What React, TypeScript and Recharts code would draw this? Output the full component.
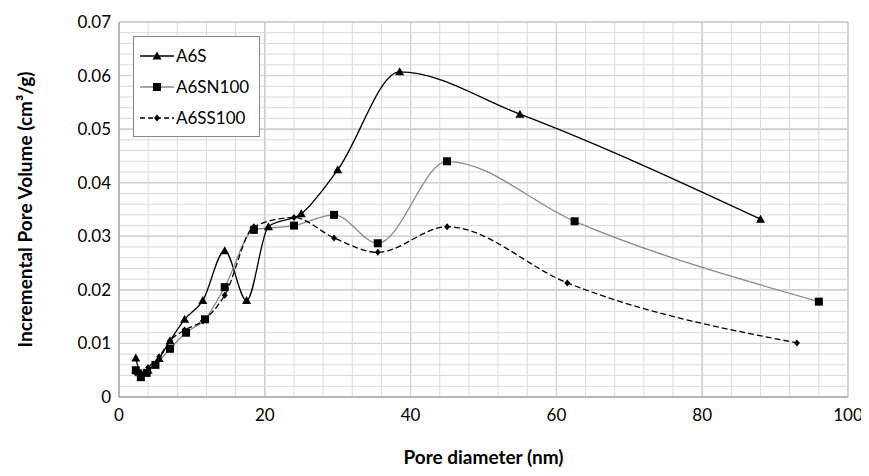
import { CartesianGrid, Line, LineChart, ReferenceLine, XAxis, YAxis } from 'recharts';

const a6s = [
  { x: 2.3, y: 0.0073 }, { x: 3, y: 0.0045 }, { x: 4, y: 0.005 }, { x: 5.5, y: 0.0072 },
  { x: 7, y: 0.0105 }, { x: 9, y: 0.0145 }, { x: 11.5, y: 0.018 }, { x: 14.5, y: 0.0273 },
  { x: 17.5, y: 0.018 }, { x: 20.5, y: 0.0318 }, { x: 25, y: 0.0342 }, { x: 30, y: 0.0424 },
  { x: 38.5, y: 0.0607 }, { x: 55, y: 0.0528 }, { x: 88, y: 0.0332 },
];
const a6sn100 = [
  { x: 2.3, y: 0.005 }, { x: 3, y: 0.0037 }, { x: 3.8, y: 0.0045 }, { x: 5, y: 0.006 },
  { x: 7, y: 0.009 }, { x: 9.2, y: 0.012 }, { x: 11.8, y: 0.0145 }, { x: 14.5, y: 0.0205 },
  { x: 18.5, y: 0.0312 }, { x: 24, y: 0.032 }, { x: 29.5, y: 0.034 }, { x: 35.5, y: 0.0287 },
  { x: 45, y: 0.044 }, { x: 62.5, y: 0.0328 }, { x: 96, y: 0.0178 },
];
const a6ss100 = [
  { x: 2.3, y: 0.0045 }, { x: 3, y: 0.004 }, { x: 4, y: 0.0055 }, { x: 5.5, y: 0.0075 },
  { x: 7, y: 0.0105 }, { x: 9, y: 0.0125 }, { x: 11.5, y: 0.0142 }, { x: 14.5, y: 0.019 },
  { x: 18.5, y: 0.0318 }, { x: 24, y: 0.0335 }, { x: 29.5, y: 0.0297 }, { x: 35.5, y: 0.027 },
  { x: 45, y: 0.0318 }, { x: 61.5, y: 0.0213 }, { x: 93, y: 0.0101 },
];
const xTicks = [0, 20, 40, 60, 80, 100];
const yTicks = [0, 0.01, 0.02, 0.03, 0.04, 0.05, 0.06, 0.07];
const xMinor = Array.from({ length: 26 }, (_, i) => i * 4);
const yMinor = Array.from({ length: 36 }, (_, i) => i * 0.002);

const font = 'Lato, "Open Sans", sans-serif';

const Triangle = (p: any) => (
  <polygon points={`${p.cx},${p.cy - 4.5} ${p.cx - 4.5},${p.cy + 3.5} ${p.cx + 4.5},${p.cy + 3.5}`} fill="#000" />
);
const Square = (p: any) => <rect x={p.cx - 4} y={p.cy - 4} width={8} height={8} fill="#000" />;
const Diamond = (p: any) => (
  <polygon points={`${p.cx},${p.cy - 3.5} ${p.cx + 3},${p.cy} ${p.cx},${p.cy + 3.5} ${p.cx - 3},${p.cy}`} fill="#000" />
);

const legendItems = [
  { name: 'A6S', color: '#000', dash: undefined, Shape: Triangle },
  { name: 'A6SN100', color: '#888', dash: undefined, Shape: Square },
  { name: 'A6SS100', color: '#000', dash: '5 3', Shape: Diamond },
];

const LegendBox = () => (
  <div style={{ position: 'absolute', left: 133, top: 36, background: '#fff', border: '1px solid #888', padding: '3px 10px 3px 6px', fontFamily: font, fontSize: 17 }}>
    {legendItems.map((it) => (
      <div key={it.name} style={{ display: 'flex', alignItems: 'center', height: 31 }}>
        <svg width={34} height={12}>
          <line x1={0} y1={6} x2={34} y2={6} stroke={it.color} strokeWidth={1.3} strokeDasharray={it.dash} />
          <it.Shape cx={17} cy={6} />
        </svg>
        <span style={{ marginLeft: 2 }}>{it.name}</span>
      </div>
    ))}
  </div>
);

const YLabel = (props: any) => {
  const vb = props.viewBox;
  const cx = vb.x - 37;
  const cy = vb.y + vb.height / 2;
  return (
    <text x={cx} y={cy} transform={`rotate(-90 ${cx} ${cy})`} textAnchor="middle" dominantBaseline="central"
      fill="#000" fontSize={19} fontWeight="bold" fontFamily={font}>
      Incremental Pore Volume (cm³/g)
    </text>
  );
};

const App = () => (
  <div style={{ margin: -8, position: 'relative', width: 869, height: 476 }}>
    <LineChart width={869} height={476} margin={{ top: 22, right: 21, bottom: 49, left: 61 }}>
      {xMinor.map((v) => (
        <ReferenceLine key={`vx${v}`} x={v} stroke="#d9d9d9" strokeWidth={1} />
      ))}
      {yMinor.map((v) => (
        <ReferenceLine key={`hy${v}`} y={v} stroke="#d9d9d9" strokeWidth={1} />
      ))}
      <CartesianGrid stroke="#999" />
      <XAxis
        type="number"
        dataKey="x"
        domain={[0, 100]}
        ticks={xTicks}
        tickLine={false}
        stroke="#999"
        height={30}
        tick={{ fill: '#000', fontSize: 17, fontFamily: font }}
        tickMargin={6}
        label={{ value: 'Pore diameter (nm)', position: 'bottom', offset: 24, fill: '#000', fontSize: 19, fontWeight: 'bold', fontFamily: font }}
      />
      <YAxis
        type="number"
        domain={[0, 0.07]}
        ticks={yTicks}
        tickLine={false}
        stroke="#999"
        width={58}
        tickFormatter={(v: number) => (v === 0 ? '0' : v.toFixed(2))}
        tick={{ fill: '#000', fontSize: 17, fontFamily: font }}
        label={<YLabel />}
      />
      <Line data={a6s} dataKey="y" name="A6S" type="monotone" stroke="#000" strokeWidth={1.3} dot={<Triangle />} isAnimationActive={false} />
      <Line data={a6sn100} dataKey="y" name="A6SN100" type="monotone" stroke="#888" strokeWidth={1.3} dot={<Square />} isAnimationActive={false} />
      <Line data={a6ss100} dataKey="y" name="A6SS100" type="monotone" stroke="#000" strokeWidth={1.3} strokeDasharray="6 3" dot={<Diamond />} isAnimationActive={false} />
    </LineChart>
    <LegendBox />
  </div>
);

export default App;
